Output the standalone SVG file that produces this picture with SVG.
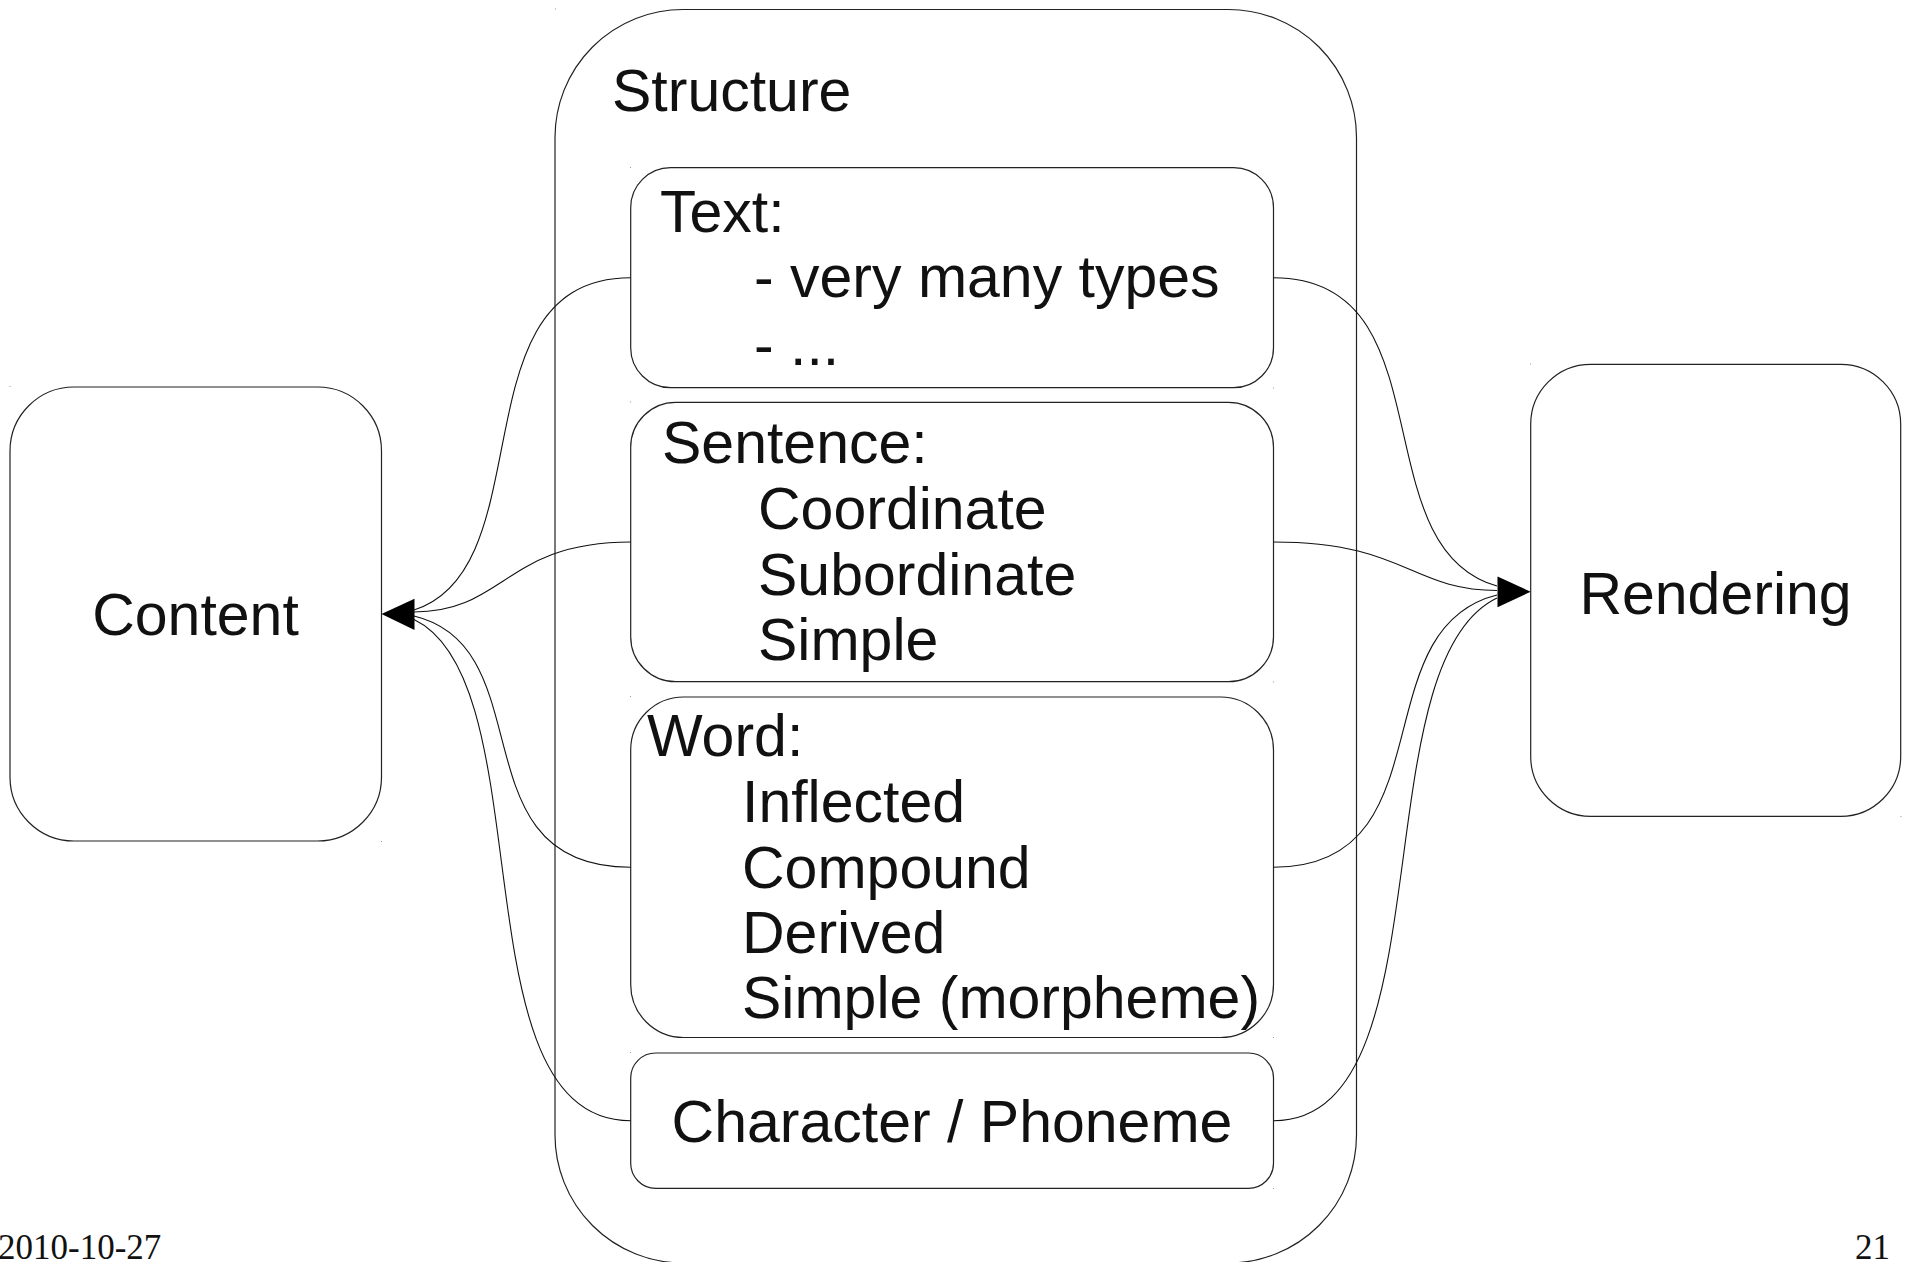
<svg xmlns="http://www.w3.org/2000/svg" width="1913" height="1262" viewBox="0 0 1913 1262">
<style>
.box{fill:#fff;stroke:#222;stroke-width:1.2}
.lbl{font-family:"Liberation Sans",Arial,sans-serif;font-size:59px;fill:#111}
.foot{font-family:"Liberation Serif","Times New Roman",serif;font-size:35px;fill:#111}
.con{fill:none;stroke:#111;stroke-width:1.1}
.head{fill:#000;stroke:none}
.dot{fill:#999}
</style>
<rect width="1913" height="1262" fill="#fff"/>
<g id="structure">
<rect class="box" x="555" y="9.5" width="801.5" height="1253.5" rx="128" ry="128"/>
<text class="lbl" x="612" y="111">Structure</text>
</g>
<g id="content">
<rect class="box" x="10" y="387" width="371.5" height="454" rx="64" ry="64"/>
<text class="lbl" x="195.5" y="635" text-anchor="middle">Content</text>
</g>
<g id="rendering">
<rect class="box" x="1530.7" y="364.3" width="370" height="452" rx="60" ry="60"/>
<text class="lbl" x="1715.5" y="614" text-anchor="middle">Rendering</text>
</g>
<g id="text-box">
<rect class="box" x="630.7" y="167.7" width="642.8" height="220" rx="40" ry="40"/>
<text class="lbl" x="660" y="232">Text:</text>
<text class="lbl" x="754" y="297">- very many types</text>
<text class="lbl" x="754" y="365">- ...</text>
</g>
<g id="sentence-box">
<rect class="box" x="630.7" y="402.3" width="642.8" height="279.4" rx="45" ry="45"/>
<text class="lbl" x="662" y="463">Sentence:</text>
<text class="lbl" x="758" y="529">Coordinate</text>
<text class="lbl" x="758" y="595">Subordinate</text>
<text class="lbl" x="758" y="660">Simple</text>
</g>
<g id="word-box">
<rect class="box" x="630.7" y="697" width="642.8" height="340.5" rx="53" ry="53"/>
<text class="lbl" x="647" y="756">Word:</text>
<text class="lbl" x="742" y="822">Inflected</text>
<text class="lbl" x="742" y="888">Compound</text>
<text class="lbl" x="742" y="953">Derived</text>
<text class="lbl" x="742" y="1018">Simple (morpheme)</text>
</g>
<g id="character-box">
<rect class="box" x="630.7" y="1053" width="642.8" height="135.3" rx="25" ry="25"/>
<text class="lbl" x="952" y="1141.5" text-anchor="middle">Character / Phoneme</text>
</g>
<g id="connectors">
<path class="con" d="M630.7,277.7 C455,277.7 545,568.5 414,610"/>
<path class="con" d="M630.7,542 C505,542 505,612 414,612"/>
<path class="con" d="M630.7,867.3 C455,867.3 545,647.4 414,616"/>
<path class="con" d="M630.7,1120.7 C455,1120.7 545,682.1 414,619.5"/>
<polygon class="head" points="381.5,614 414.5,598.8 414.5,630"/>
<path class="con" d="M1273.5,277.7 C1449,277.7 1360,547.5 1497,586"/>
<path class="con" d="M1273.5,542 C1405,542 1411,590.5 1497,590.5"/>
<path class="con" d="M1273.5,867.3 C1449,867.3 1360,629 1497,595"/>
<path class="con" d="M1273.5,1120.7 C1449,1120.7 1360,663.3 1497,598"/>
<polygon class="head" points="1530.7,591.7 1497.5,576.5 1497.5,607.3"/>
</g>
<g id="corner-marks">
<rect class="dot" x="555" y="8.5" width="1" height="1"/>
<rect class="dot" x="9.5" y="386" width="1" height="1"/>
<rect class="dot" x="381" y="841" width="1" height="1"/>
<rect class="dot" x="1530" y="363.5" width="1" height="1"/>
<rect class="dot" x="1900.5" y="816" width="1" height="1"/>
<rect class="dot" x="630" y="167" width="1" height="1"/>
<rect class="dot" x="1273" y="387.5" width="1" height="1"/>
<rect class="dot" x="630" y="401.5" width="1" height="1"/>
<rect class="dot" x="1273" y="681.5" width="1" height="1"/>
<rect class="dot" x="630" y="696" width="1" height="1"/>
<rect class="dot" x="1273" y="1037" width="1" height="1"/>
<rect class="dot" x="630" y="1052" width="1" height="1"/>
<rect class="dot" x="1273" y="1188" width="1" height="1"/>
</g>
<g id="footer">
<text class="foot" x="-2" y="1259">2010-10-27</text>
<text class="foot" x="1855" y="1259">21</text>
</g>
</svg>
